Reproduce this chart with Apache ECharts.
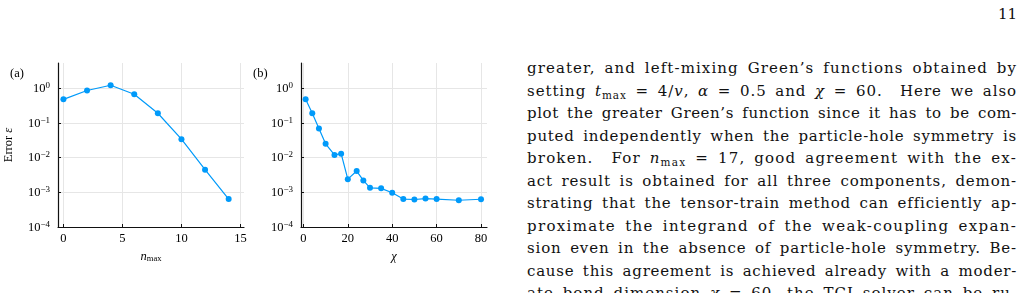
<!DOCTYPE html>
<html>
<head>
<meta charset="utf-8">
<script src="https://cdn.jsdelivr.net/npm/echarts@6/dist/echarts.min.js"></script>
<style>
  html, body { margin:0; padding:0; width:1024px; height:293px; overflow:hidden; background:#fff; }
  #chart { position:absolute; left:0; top:0; width:510px; height:293px; }
  #text { position:absolute; left:527px; top:57px; width:490px; font-family:"DejaVu Serif", serif; font-size:15px; color:#111; }
  #text div { height:22.5px; line-height:22.5px; white-space:nowrap; text-align:left; }
  #text span.ln { display:inline-block; white-space:nowrap; }
  #pg { position:absolute; left:998px; top:5px; font-family:"DejaVu Serif", serif; font-size:15px; color:#111; }
  i { font-style:italic; }
  sub { font-size:10.5px; vertical-align:-3px; line-height:0; }
</style>
</head>
<body>
<div id="chart"></div>
<div id="pg">11</div>
<div id="text">
  <div><span class="ln">greater, and left-mixing Green’s functions obtained by</span></div>
  <div><span class="ln">setting <i>t</i><sub>max</sub> = 4/<i>v</i>, <i>α</i> = 0.5 and <i>χ</i> = 60.&nbsp; Here we also</span></div>
  <div><span class="ln">plot the greater Green’s function since it has to be com-</span></div>
  <div><span class="ln">puted independently when the particle-hole symmetry is</span></div>
  <div><span class="ln">broken.&nbsp; For <i>n</i><sub>max</sub> = 17, good agreement with the ex-</span></div>
  <div><span class="ln">act result is obtained for all three components, demon-</span></div>
  <div><span class="ln">strating that the tensor-train method can efficiently ap-</span></div>
  <div><span class="ln">proximate the integrand of the weak-coupling expan-</span></div>
  <div><span class="ln">sion even in the absence of particle-hole symmetry. Be-</span></div>
  <div><span class="ln">cause this agreement is achieved already with a moder-</span></div>
  <div><span class="ln">ate bond dimension <i>χ</i> = 60, the TCI solver can be ru-</span></div>
</div>
<script>
// ---- data ----
const nmax = [0, 2, 4, 6, 8, 10, 12, 14];
const errA = [0.48, 0.86, 1.22, 0.67, 0.19, 0.034, 0.0045, 0.00064];
const chi  = [1, 4, 7, 10, 14, 17, 20, 24, 27, 30, 35, 40, 45, 50, 55, 60, 70, 80];
const errB = [0.48, 0.19, 0.069, 0.025, 0.012, 0.013, 0.0024, 0.0041, 0.0022, 0.00135,
              0.0013, 0.00097, 0.00064, 0.00062, 0.00066, 0.00064, 0.00059, 0.00063];
const panelLabels = ['(a)', '(b)'];

// justify each text line to the column width: stretch spaces first, then letters
(function fitLines() {
  const W = 490;
  document.querySelectorAll('#text span.ln').forEach(function (s) {
    const txt = s.textContent;
    const nSp = (txt.match(/[ \u00a0]/g) || []).length;
    const n = txt.length;
    let w = s.getBoundingClientRect().width;
    let extra = W - w;
    let ws = nSp ? Math.min(extra / nSp, 3) : 0;
    s.style.wordSpacing = ws.toFixed(3) + 'px';
    w = s.getBoundingClientRect().width;
    let ls = (W - w) / n;
    s.style.letterSpacing = ls.toFixed(3) + 'px';
    w = s.getBoundingClientRect().width;
    s.style.letterSpacing = (ls + (W - w) / n).toFixed(3) + 'px';
  });
})();

const FONT = 'Liberation Serif';
const BLUE = '#009AFA';

function logLabel(v) {
  const l = Math.log10(v);
  const e = Math.round(l);
  if (Math.abs(l - e) > 1e-6) return '';
  return '{b|10}{s|' + (e < 0 ? '−' + (-e) : e) + '}';
}
function intLabel(step) {
  return function (v) {
    const r = Math.round(v / step) * step;
    return Math.abs(v - r) < 1e-6 ? String(r) : '';
  };
}
const logRich = {
  b: { fontFamily: FONT, fontSize: 12.5, color: '#000', verticalAlign: 'bottom', lineHeight: 14 },
  s: { fontFamily: FONT, fontSize: 9, color: '#000', verticalAlign: 'top', lineHeight: 14, padding: [0, 0, 6, 0] }
};

function xAxis(idx, min, max, split, step, name) {
  return {
    type: 'value', gridIndex: idx, min: min, max: max, splitNumber: split,
    name: name, nameLocation: 'middle', nameGap: 16,
    nameTextStyle: { fontFamily: FONT, fontSize: 12, color: '#000',
      rich: { i: { fontFamily: FONT, fontStyle: 'italic', fontSize: 12.5, color: '#000' },
              sub: { fontFamily: FONT, fontSize: 8.5, color: '#000', padding: [5, 0, 0, 0] } } },
    axisLine: { show: true, onZero: false, lineStyle: { color: '#111', width: 1.2 } },
    axisTick: { show: true, inside: true, length: 3, lineStyle: { color: '#111', width: 1 } },
    axisLabel: { fontFamily: FONT, fontSize: 12.5, color: '#000', margin: 5,
      showMinLabel: false, showMaxLabel: false, formatter: intLabel(step) },
    splitLine: { show: true, showMinLine: false, showMaxLine: false, lineStyle: { color: '#e6e6e6', width: 1 } }
  };
}
function yAxis(idx, name) {
  return {
    type: 'log', logBase: 10, gridIndex: idx, min: 1e-4, max: 5.35,
    name: name, nameLocation: 'middle', nameGap: 43,
    nameTextStyle: { fontFamily: FONT, fontSize: 12.5, color: '#000',
      rich: { i: { fontFamily: FONT, fontStyle: 'italic', fontSize: 12.5, color: '#000' } } },
    axisLine: { show: true, onZero: false, lineStyle: { color: '#111', width: 1.2 } },
    axisTick: { show: true, inside: true, length: 3, lineStyle: { color: '#111', width: 1 } },
    axisLabel: { margin: 8, formatter: logLabel, rich: logRich, showMaxLabel: false },
    splitLine: { show: true, showMinLine: false, showMaxLine: false, lineStyle: { color: '#e6e6e6', width: 1 } },
    minorTick: { show: false }
  };
}
function series(idx, xs, ys) {
  return {
    type: 'line', xAxisIndex: idx, yAxisIndex: idx,
    data: xs.map((x, i) => [x, ys[i]]),
    symbol: 'circle', symbolSize: 6, showSymbol: true,
    lineStyle: { color: BLUE, width: 1.2 },
    itemStyle: { color: BLUE },
    animation: false
  };
}

const chart = echarts.init(document.getElementById('chart'), null, { renderer: 'canvas' });
chart.setOption({
  backgroundColor: '#fff',
  animation: false,
  title: [
    { text: panelLabels[0], left: 5, top: 62, textStyle: { fontFamily: FONT, fontSize: 12.5, fontWeight: 'normal', color: '#000' } },
    { text: panelLabels[1], left: 248, top: 62, textStyle: { fontFamily: FONT, fontSize: 12.5, fontWeight: 'normal', color: '#000' } }
  ],
  grid: [
    { left: 58, top: 63, width: 186, height: 164 },
    { left: 301, top: 63, width: 186, height: 164 }
  ],
  xAxis: [
    xAxis(0, -0.46, 15.3, 3, 5, '{i|n}{sub|max}'),
    xAxis(1, -1.08, 82.7, 4, 20, '{i|χ}')
  ],
  yAxis: [
    yAxis(0, 'Error {i|ε}'),
    yAxis(1, '')
  ],
  series: [series(0, nmax, errA), series(1, chi, errB)]
});
</script>
</body>
</html>
